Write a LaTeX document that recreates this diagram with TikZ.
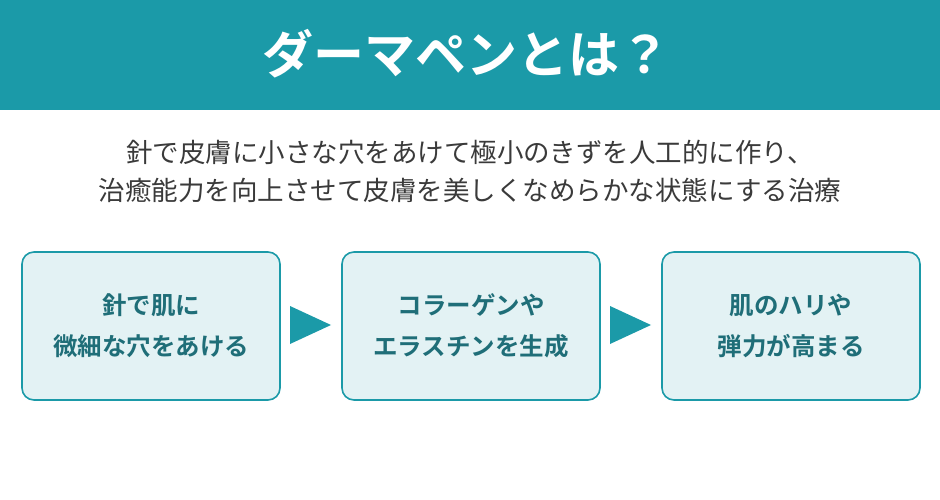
\documentclass[tikz,border=0pt]{standalone}
\usepackage{fontspec}
\newfontfamily\jp{Noto Sans CJK JP}
\newfontfamily\jpb{Noto Sans CJK JP Bold}
\definecolor{teal1}{HTML}{1B9AA8}
\definecolor{boxfill}{HTML}{E3F2F4}
\definecolor{boxtext}{HTML}{1F6E78}
\definecolor{body}{HTML}{3A3A3A}
\begin{document}
\begin{tikzpicture}[x=1pt,y=-1pt,
  box/.style={draw=teal1,line width=1.6pt,fill=boxfill,rounded corners=12pt,minimum width=258pt,minimum height=148pt,align=center,font=\jpb\fontsize{24.5}{41}\selectfont,text=boxtext},
  arr/.style={fill=teal1,draw=none}]
\useasboundingbox (0,0) rectangle (940,500);
\fill[teal1] (0,0) rectangle (940,110);
\node[font=\jpb\fontsize{51}{56}\selectfont,text=white] (title) at (466,54) {ダーマペンとは？};
\node[font=\jp\fontsize{26.5}{38}\selectfont,text=body,align=center] (sub) at (470,171) {針で皮膚に小さな穴をあけて極小のきずを人工的に作り、\\治癒能力を向上させて皮膚を美しくなめらかな状態にする治療};
\node[box] (b1) at (151,326) {針で肌に\\微細な穴をあける};
\node[box] (b2) at (471,326) {コラーゲンや\\エラスチンを生成};
\node[box] (b3) at (791,326) {肌のハリや\\弾力が高まる};
\fill[arr] (290,306) -- (331,325) -- (290,344) -- cycle;
\fill[arr] (610,306) -- (651,325) -- (610,344) -- cycle;
\end{tikzpicture}
\end{document}
